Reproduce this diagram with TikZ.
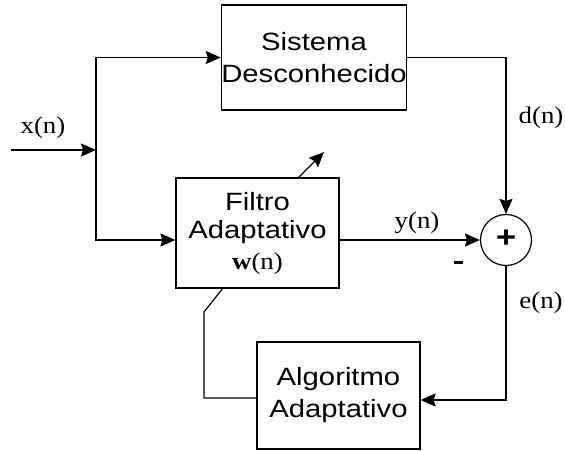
\documentclass[tikz,border=0pt]{standalone}
\usepackage{fontspec}
\newfontfamily\sansf[FakeStretch=1.17]{Liberation Sans}
\newfontfamily\serf[FakeStretch=1.12]{Liberation Serif}
\usetikzlibrary{arrows.meta}
\begin{document}
\begin{tikzpicture}[x=1pt,y=-1pt,
  line width=1.2pt,
  blk/.style={draw, fill=white, inner sep=0pt, align=center,
    font=\sansf\fontsize{25}{32}\selectfont},
  lbl/.style={inner sep=0pt, font=\serf\fontsize{24}{28}\selectfont},
  arr/.style={-{Stealth[length=15pt,width=13pt,inset=2pt]}}]
\useasboundingbox (0,0) rectangle (565,450);
% blocks
\node[blk, minimum width=182pt, minimum height=105pt] (sys) at (314,57.5)
  {Sistema\\Desconhecido};
\node[blk, minimum width=163pt, minimum height=110pt] (filt) at (257.5,233) {};
\node[font=\sansf\fontsize{25}{30}\selectfont, inner sep=0pt] (ft1) at (257.5,202) {Filtro};
\node[font=\sansf\fontsize{25}{30}\selectfont, inner sep=0pt] (ft2) at (257.5,232) {Adaptativo};
\node[lbl] (ft3) at (257.5,264) {\textbf{w}(n)};
\node[blk, minimum width=163pt, minimum height=107pt, font=\sansf\fontsize{25}{32}\selectfont] (alg) at (338.5,395.5)
  {Algoritmo\\Adaptativo};
\node[draw, circle, minimum size=51pt, inner sep=0pt] (sum) at (506,240) {};
\node[font=\sansf\bfseries\fontsize{30}{34}\selectfont, inner sep=0pt] (plus) at (506,239) {+};
% coordinates
\coordinate (in) at (11,150);
\coordinate (j) at (96,150);
\coordinate (fb) at (204,312);
\coordinate (fbtop) at (223,288);
\coordinate (vt1) at (298,178);
\coordinate (vt2) at (324,152);
% connectors
\draw[arr] (in) -- (j);
\draw[arr] (j) |- (sys.west);
\draw[arr] (j) |- ([yshift=-7pt]filt.west);
\draw[arr] (sys.east) -| (sum.north);
\draw[arr] ([yshift=-7pt]filt.east) -- (sum.west);
\draw[arr] (sum.south) |- ([yshift=-4.5pt]alg.east);
\draw ([yshift=-2.5pt]alg.west) -| (fb) -- (fbtop);
\draw[arr] (vt1) -- (vt2);
% labels
\node[lbl] (lx) at (43,128) {x(n)};
\node[lbl] (ld) at (541,118) {d(n)};
\node[lbl] (ly) at (417,223) {y(n)};
\node[lbl] (le) at (541,303) {e(n)};
\draw[line width=3pt] (454,262) -- (463,262);
\end{tikzpicture}
\end{document}
